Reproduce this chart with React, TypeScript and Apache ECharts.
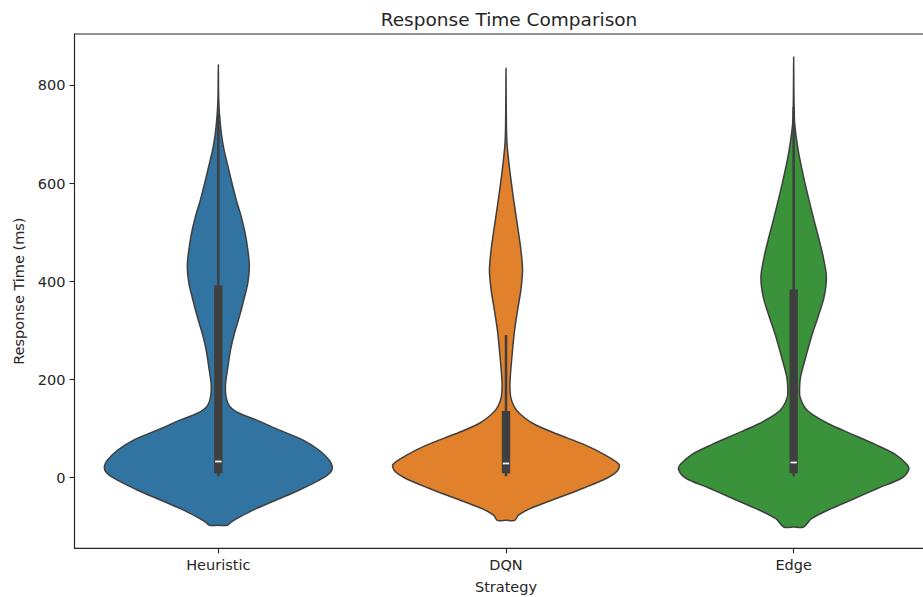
import React, { useEffect, useRef } from 'react';
import * as echarts from 'echarts';

const categories = ['Heuristic', 'DQN', 'Edge'];
const yTicks = [0, 200, 400, 600, 800];
const colors = ['#3274A1', '#E1812C', '#3A923A'];

// Violin outlines: response-time value and relative density (half-width)
const heuristicValues = [-97, -90, -80, -66, -45.5, -25, -5, 9, 22, 36, 56, 77, 97, 118, 131, 145, 165, 192, 227, 261, 295, 329, 363, 397, 431, 465, 499, 533, 567, 601, 635, 669, 703, 740, 771, 805, 842];
const heuristicDensity = [9, 13.3, 21.7, 35, 58.3, 81.7, 101.7, 112.3, 115, 111.7, 101.7, 85, 61.7, 38, 21.7, 11.7, 7.8, 7.3, 9.7, 12.3, 16.3, 21.3, 25.7, 29.7, 31.3, 29.7, 27, 23, 18, 13.7, 9.7, 5.7, 3, 1.2, 0.4, 0.15, 0];

const dqnValues = [-87, -76.5, -63, -42, -21, -0.6, 13, 27, 47.6, 68, 89, 110, 130, 144, 165, 193, 240, 295, 342, 383, 424, 465, 499, 567, 635, 682, 720, 780, 835];
const dqnDensity = [8.8, 12.5, 24.3, 51.4, 78.4, 102, 112, 114, 98.7, 78.4, 51.4, 27.7, 14.2, 8.5, 4.7, 4, 5.7, 8.3, 11.7, 15, 16.7, 15, 12.7, 7.7, 3.3, 1, 0.4, 0.15, 0];

const edgeValues = [-100.6, -83.5, -63, -42, -21, -0.6, 16.5, 27, 47.6, 68, 89, 110, 130, 144, 165, 185, 206, 247, 288, 329, 369, 410, 451, 485, 519, 587, 655, 689, 723, 760, 810, 858];
const edgeDensity = [10, 18, 38, 62, 85.5, 109, 116, 114.3, 102.4, 82, 58.5, 35, 18, 11, 6.3, 6, 7, 12.3, 18, 24.7, 30.7, 33, 29.7, 25.7, 21.3, 13, 5.7, 3, 1, 0.4, 0.15, 0];

// Inner box statistics
const q1 = [9, 9, 9];
const q3 = [392, 136, 384];
const medians = [33, 29, 31];
const whiskerLow = [3, 3, 3];
const whiskerHigh = [742, 291, 756];

const violinValues = [heuristicValues, dqnValues, edgeValues];
const violinDensity = [heuristicDensity, dqnDensity, edgeDensity];

const TEXT = '#262626';
const FONT = 'DejaVu Sans';

export default function App() {
  const ref = useRef<HTMLDivElement>(null);
  useEffect(() => {
    if (!ref.current) return;
    const chart = echarts.init(ref.current, undefined, { renderer: 'svg' });
    const maxDensity = Math.max(...violinDensity.map((d) => Math.max(...d)));

    const renderItem = (params: any, api: any) => {
      const i = params.dataIndex;
      const vals = violinValues[i];
      const dens = violinDensity[i];
      const band = api.size([1, 0])[0];
      const k = (0.4 * band) / maxDensity;
      const cx = api.coord([i, 0])[0];
      const left = vals.map((v, j) => [cx - dens[j] * k, api.coord([i, v])[1]]);
      let right = vals.map((v, j) => [cx + dens[j] * k, api.coord([i, v])[1]]).reverse();
      if (dens[dens.length - 1] === 0) right = right.slice(1);
      const bottomY = api.coord([i, vals[0]])[1];
      const points = left.concat(right, [[cx, bottomY]]);
      const yQ1 = api.coord([i, q1[i]])[1];
      const yQ3 = api.coord([i, q3[i]])[1];
      const yMed = api.coord([i, medians[i]])[1];
      const yLo = api.coord([i, whiskerLow[i]])[1];
      const yHi = api.coord([i, whiskerHigh[i]])[1];
      const boxW = 8.4;
      return {
        type: 'group',
        children: [
          {
            type: 'polygon',
            shape: { points, smooth: 0.3 },
            style: { fill: colors[i], stroke: '#3f3f3f', lineWidth: 1.5 },
          },
          {
            type: 'line',
            shape: { x1: cx, y1: yLo, x2: cx, y2: yHi },
            style: { stroke: '#3f3f3f', lineWidth: 2.5 },
          },
          {
            type: 'rect',
            shape: { x: cx - boxW / 2, y: yQ3, width: boxW, height: yQ1 - yQ3 },
            style: { fill: '#3f3f3f' },
          },
          {
            type: 'rect',
            shape: { x: cx - 3.2, y: yMed - 0.9, width: 6.4, height: 1.8 },
            style: { fill: '#f2f2f2' },
          },
        ],
      };
    };

    chart.setOption({
      animation: false,
      title: {
        text: 'Response Time Comparison',
        left: 504,
        top: 5,
        textAlign: 'center',
        textStyle: { fontSize: 18.5, fontWeight: 'normal', color: TEXT, fontFamily: FONT },
      },
      grid: {
        left: 74.5,
        top: 34,
        right: -14.5,
        bottom: 48.7,
        show: true,
        borderColor: TEXT,
        borderWidth: 1.1,
        backgroundColor: 'transparent',
        containLabel: false,
        outerBoundsMode: 'none',
      },
      xAxis: {
        type: 'category',
        data: categories,
        boundaryGap: true,
        name: 'Strategy',
        nameLocation: 'middle',
        nameGap: 31,
        nameTextStyle: { fontSize: 14.5, color: TEXT, fontFamily: FONT },
        axisLine: { show: true, onZero: false, lineStyle: { color: TEXT, width: 1.1 } },
        axisTick: { show: true, alignWithLabel: true, length: 5, lineStyle: { color: TEXT, width: 1.1 } },
        axisLabel: { fontSize: 14.5, color: TEXT, margin: 9, fontFamily: FONT },
        splitLine: { show: false },
      },
      yAxis: {
        type: 'value',
        min: -144,
        max: 905,
        name: 'Response Time (ms)',
        nameLocation: 'middle',
        nameGap: 48,
        nameRotate: 90,
        nameTextStyle: { fontSize: 14.5, color: TEXT, fontFamily: FONT },
        axisLine: { show: true, onZero: false, lineStyle: { color: TEXT, width: 1.1 } },
        axisTick: { show: true, customValues: yTicks, length: 5, lineStyle: { color: TEXT, width: 1.1 } },
        axisLabel: { customValues: yTicks, fontSize: 14.5, color: TEXT, margin: 9, fontFamily: FONT },
        splitLine: { show: false },
      },
      series: [
        {
          type: 'custom',
          renderItem,
          data: categories.map((c, i) => [i, q3[i]]),
          encode: { x: 0, y: 1 },
          clip: false,
        },
      ],
    });
    return () => chart.dispose();
  }, []);
  return (
    <div
      ref={ref}
      style={{ position: 'fixed', left: 0, top: 0, width: 923, height: 597, background: '#fff' }}
    />
  );
}
